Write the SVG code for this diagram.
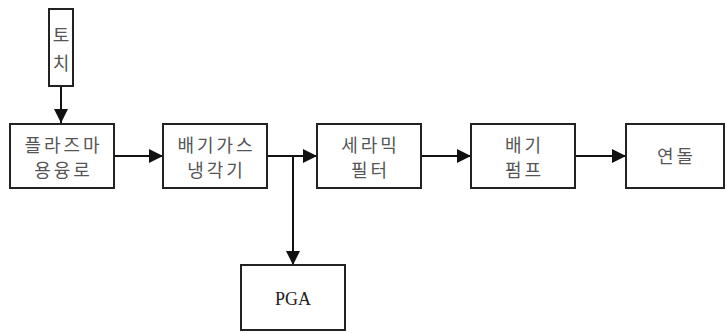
<svg xmlns="http://www.w3.org/2000/svg" width="727" height="333" viewBox="0 0 727 333">
<style>
.box{fill:#fff;stroke:#222;stroke-width:2}
.k{font-family:"Noto Sans CJK KR","Noto Sans",sans-serif;font-size:18px;fill:#555;text-anchor:middle;letter-spacing:3px}
.p{font-family:"Liberation Serif",serif;font-size:18px;fill:#222;text-anchor:middle}
.c{stroke:#111;stroke-width:2;fill:none}
</style>
<defs>
<marker id="ah" markerWidth="14" markerHeight="14" refX="14" refY="7" orient="auto" markerUnits="userSpaceOnUse">
<path d="M0,0 L14,7 L0,14 Z" fill="#111"/>
</marker>
</defs>
<rect width="727" height="333" fill="#fff"/>
<g id="connectors">
<line class="c" x1="61" y1="86" x2="61" y2="123" marker-end="url(#ah)"/>
<line class="c" x1="114" y1="156" x2="163" y2="156" marker-end="url(#ah)"/>
<line class="c" x1="267" y1="156" x2="317" y2="156" marker-end="url(#ah)"/>
<line class="c" x1="293" y1="156" x2="293" y2="265" marker-end="url(#ah)"/>
<line class="c" x1="421" y1="156" x2="471" y2="156" marker-end="url(#ah)"/>
<line class="c" x1="575" y1="156" x2="626" y2="156" marker-end="url(#ah)"/>
</g>
<g id="torch">
<rect class="box" x="49" y="9" width="24" height="77"/>
<text class="k" x="62.5" y="42">토</text>
<text class="k" x="62.5" y="70">치</text>
</g>
<g id="plasma">
<rect class="box" x="10" y="124" width="104" height="64"/>
<text class="k" x="63.5" y="152">플라즈마</text>
<text class="k" x="63.5" y="177">용융로</text>
</g>
<g id="cooler">
<rect class="box" x="163" y="124" width="104" height="64"/>
<text class="k" x="216.5" y="152">배기가스</text>
<text class="k" x="216.5" y="177">냉각기</text>
</g>
<g id="filter">
<rect class="box" x="317" y="124" width="104" height="64"/>
<text class="k" x="370.5" y="152">세라믹</text>
<text class="k" x="370.5" y="177">필터</text>
</g>
<g id="pump">
<rect class="box" x="471" y="124" width="104" height="64"/>
<text class="k" x="524.5" y="152">배기</text>
<text class="k" x="524.5" y="177">펌프</text>
</g>
<g id="stack">
<rect class="box" x="626" y="124" width="98" height="64"/>
<text class="k" x="676.5" y="163">연돌</text>
</g>
<g id="pga">
<rect class="box" x="241" y="265" width="104" height="65"/>
<text class="p" x="293" y="305">PGA</text>
</g>
</svg>
